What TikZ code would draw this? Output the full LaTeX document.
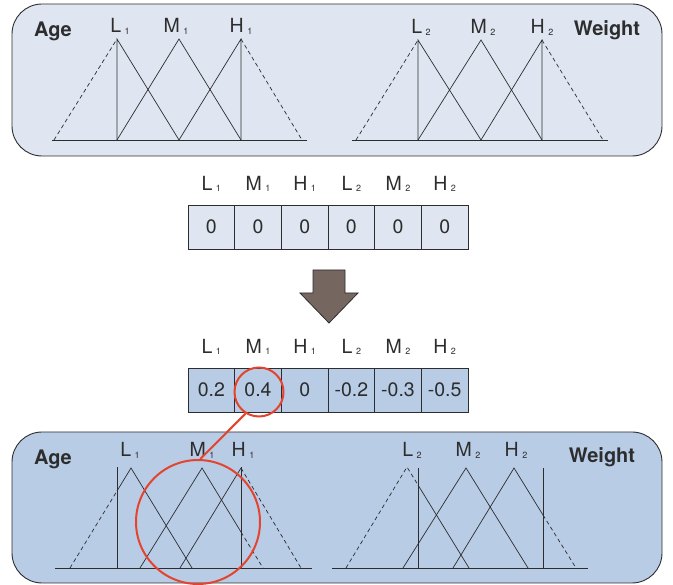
\documentclass[tikz,border=0pt]{standalone}
\usepackage{fontspec}
\setmainfont{TeX Gyre Heros}
\usepackage{tikz}
\usetikzlibrary{positioning}
\definecolor{PanelLight}{RGB}{223,229,241}
\definecolor{PanelDark}{RGB}{184,204,230}
\definecolor{RingRed}{RGB}{228,68,45}
\definecolor{ArrowBrown}{RGB}{117,102,96}
\definecolor{InkGray}{RGB}{45,45,45}
\tikzset{panel/.style={draw=InkGray,line width=0.9pt,rounded corners=30pt},
	mf/.style={InkGray,line width=0.7pt},
	mfdash/.style={mf,dash pattern=on 4pt off 3pt},
	cell/.style={draw=InkGray,line width=0.8pt,minimum width=46.67pt,minimum height=44pt,
		inner sep=0pt,outer sep=0pt,font=\fontsize{19.5}{19.5}\selectfont,text=InkGray},
	setname/.style={font=\fontsize{20}{20}\selectfont\bfseries,text=InkGray,inner sep=0pt,anchor=base},
	mflabel/.style={font=\fontsize{19.5}{19.5}\selectfont,text=InkGray,inner sep=0pt},
	ring/.style={circle,draw=RingRed,line width=2pt,inner sep=0pt}}
\newcommand{\mfl}[2]{#1\hspace{3.5pt}\raisebox{-1.5pt}{\fontsize{9}{9}\selectfont #2}}

\begin{document}
\begin{tikzpicture}[x=1pt,y=-1pt]
	\useasboundingbox (0,0) rectangle (673,585);
	% panels
	\draw[panel,fill=PanelLight] (12,4) rectangle (662,156);
	\draw[panel,fill=PanelDark] (12,432) rectangle (662,583);
	\node[setname] (ageTop) at (53,37) {Age};
	\node[setname] (weightTop) at (607,36) {Weight};
	\node[setname] (ageBot) at (53,465) {Age};
	\node[setname] (weightBot) at (602,463) {Weight};
	% initial membership functions
	\node[mflabel,anchor=base] (lA) at (120,33) {\mfl{L}{1}};
	\node[mflabel,anchor=base] (mA) at (176,33) {\mfl{M}{1}};
	\node[mflabel,anchor=base] (hA) at (241,33) {\mfl{H}{1}};
	\draw[mf] (52,140) -- (307,140);
	\draw[mfdash] (54,140) -- (117,39);
	\draw[mfdash] (241,39) -- (302,140);
	\draw[mf] (117,140) -- (117,39) -- (179,140);
	\draw[mf] (117,140) -- (179,39) -- (241,140);
	\draw[mf] (179,140) -- (241,39) -- (241,140);
	\node[mflabel,anchor=base] (lB) at (421,34) {\mfl{L}{2}};
	\node[mflabel,anchor=base] (mB) at (483,34) {\mfl{M}{2}};
	\node[mflabel,anchor=base] (hB) at (542,34) {\mfl{H}{2}};
	\draw[mf] (352,140) -- (608,140);
	\draw[mfdash] (356,140) -- (418,40);
	\draw[mfdash] (542,40) -- (603,140);
	\draw[mf] (418,140) -- (418,40) -- (481,140);
	\draw[mf] (418,140) -- (481,40) -- (542,140);
	\draw[mf] (481,140) -- (542,40) -- (542,140);
	% parameter vector, before
	\node[cell,fill=PanelLight] (zA1) at (211.33,227) {0};
	\node[cell,fill=PanelLight,right=0pt of zA1] (zA2) {0};
	\node[cell,fill=PanelLight,right=0pt of zA2] (zA3) {0};
	\node[cell,fill=PanelLight,right=0pt of zA3] (zA4) {0};
	\node[cell,fill=PanelLight,right=0pt of zA4] (zA5) {0};
	\node[cell,fill=PanelLight,right=0pt of zA5] (zA6) {0};
	\node[mflabel,above=13pt of zA1] {\mfl{L}{1}};
	\node[mflabel,above=13pt of zA2] {\mfl{M}{1}};
	\node[mflabel,above=13pt of zA3] {\mfl{H}{1}};
	\node[mflabel,above=13pt of zA4] {\mfl{L}{2}};
	\node[mflabel,above=13pt of zA5] {\mfl{M}{2}};
	\node[mflabel,above=13pt of zA6] {\mfl{H}{2}};
	\draw[InkGray,fill=ArrowBrown,line width=0.8pt] (313,270) -- (345,270) -- (345,293) -- (358,293)
		-- (329,323) -- (300,293) -- (313,293) -- cycle;
	% parameter vector, after
	\node[cell,fill=PanelDark] (zB1) at (211.33,390) {0.2};
	\node[cell,fill=PanelDark,right=0pt of zB1] (zB2) {0.4};
	\node[cell,fill=PanelDark,right=0pt of zB2] (zB3) {0};
	\node[cell,fill=PanelDark,right=0pt of zB3] (zB4) {-0.2};
	\node[cell,fill=PanelDark,right=0pt of zB4] (zB5) {-0.3};
	\node[cell,fill=PanelDark,right=0pt of zB5] (zB6) {-0.5};
	\node[mflabel,above=13pt of zB1] {\mfl{L}{1}};
	\node[mflabel,above=13pt of zB2] {\mfl{M}{1}};
	\node[mflabel,above=13pt of zB3] {\mfl{H}{1}};
	\node[mflabel,above=13pt of zB4] {\mfl{L}{2}};
	\node[mflabel,above=13pt of zB5] {\mfl{M}{2}};
	\node[mflabel,above=13pt of zB6] {\mfl{H}{2}};
	% shifted membership functions
	\node[mflabel,anchor=base] (lC) at (130,457) {\mfl{L}{1}};
	\node[mflabel,anchor=base] (mC) at (202,457) {\mfl{M}{1}};
	\node[mflabel,anchor=base] (hC) at (243,457) {\mfl{H}{1}};
	\draw[mf] (55,568) -- (312,568);
	\draw[mf] (117,568) -- (117,467);
	\draw[mf] (241,568) -- (241,467);
	\draw[mfdash] (70,568) -- (117,491);
	\draw[mf] (117,491) -- (131,468) -- (192,568);
	\draw[mf] (140,568) -- (202,468) -- (241,532);
	\draw[mfdash] (241,532) -- (263,568);
	\draw[mf] (180,568) -- (241,468);
	\draw[mfdash] (241,468) -- (301,568);
	\node[mflabel,anchor=base] (lD) at (412,457) {\mfl{L}{2}};
	\node[mflabel,anchor=base] (mD) at (468,457) {\mfl{M}{2}};
	\node[mflabel,anchor=base] (hD) at (516,457) {\mfl{H}{2}};
	\draw[mf] (332,568) -- (588,568);
	\draw[mf] (418,568) -- (418,468);
	\draw[mf] (543,568) -- (543,468);
	\draw[mfdash] (346,568) -- (407,467) -- (418,485);
	\draw[mf] (418,485) -- (469,568);
	\draw[mf] (403,568) -- (466,468) -- (528,568);
	\draw[mf] (453,568) -- (514,468) -- (543,515);
	\draw[mfdash] (543,515) -- (576,568);
	% zoom rings
	\node[ring,minimum size=49pt] (ringA) at (259,392) {};
	\node[ring,minimum size=124pt] (ringB) at (198,522) {};
	\draw[RingRed,line width=2pt] (ringA.238) -- (ringB.88);
\end{tikzpicture}
\end{document}
